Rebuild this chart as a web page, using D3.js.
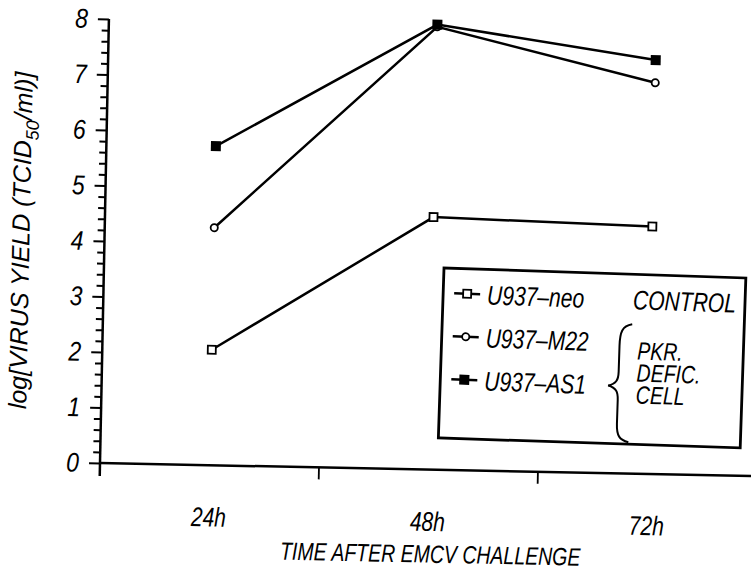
<!DOCTYPE html>
<html>
<head>
<meta charset="utf-8">
<script src="https://cdn.jsdelivr.net/npm/d3@7"></script>
<style>
body { margin: 0; background: #fff; }
svg { display: block; }
text { font-family: "Liberation Sans", Arial, sans-serif; font-style: italic; fill: #000; }
</style>
</head>
<body>
<svg></svg>
<script>
const width = 751;
const height = 576;

// categories and values
const cats = ['24h', '48h', '72h'];
const neo = [2.08, 4.55, 4.46];
const m22 = [4.28, 7.98, 7.05];
const as1 = [5.75, 8.02, 7.46];
const yTicks = [0, 1, 2, 3, 4, 5, 6, 7, 8];
const seriesNames = ['U937\u2013neo', 'U937\u2013M22', 'U937\u2013AS1'];
const seriesMarks = ['openSquare', 'openCircle', 'filledSquare'];
const groupLabels = ['CONTROL', 'PKR.', 'DEFIC.', 'CELL'];

const series = [neo, m22, as1].map((vals, i) => ({
    name: seriesNames[i],
    mark: seriesMarks[i],
    points: vals.map((v, j) => ({cat: cats[j], val: v}))
}));

// no narrow font installed: squeeze text horizontally around its anchor
let squeeze = (k) => (sel) => {
    sel.each(function () {
        let t = d3.select(this);
        let tx = +t.attr('x') || 0, ty = +t.attr('y') || 0;
        t.attr('x', 0).attr('y', 0)
            .attr('transform', `translate(${tx},${ty}) scale(${k},1)`);
    });
};

let svg = d3.select('svg').attr('width', width).attr('height', height);

// the scan is slightly tilted, so the whole plot sits in a rotated group
let g = svg.append('g').attr('transform', 'translate(100,463) rotate(1.15)');

let x = d3.scaleBand().domain(cats).range([0, 657]);
let y = d3.scaleLinear().domain([0, 8]).range([0, -444]);

// draws one marker of a given kind
let drawMark = (sel, kind, cx, cy) => {
    if (kind === 'openCircle') {
        sel.append('circle').attr('cx', cx).attr('cy', cy).attr('r', 3.6)
            .attr('fill', '#fff').attr('stroke', '#000').attr('stroke-width', 1.8);
    } else if (kind === 'openSquare') {
        sel.append('rect').attr('x', cx - 4).attr('y', cy - 4).attr('width', 8).attr('height', 8)
            .attr('fill', '#fff').attr('stroke', '#000').attr('stroke-width', 1.8);
    } else {
        sel.append('rect').attr('x', cx - 5).attr('y', cy - 5).attr('width', 10).attr('height', 10)
            .attr('fill', '#000');
    }
};

// minor and major y ticks
let minor = d3.range(0, 8.001, 0.2).filter(v => Math.abs(v - Math.round(v)) > 0.01);
g.append('g')
    .call(d3.axisLeft(y).tickValues(minor).tickSize(7).tickFormat(''))
    .call(a => a.select('.domain').remove())
    .selectAll('line').attr('stroke-width', 2);

g.append('g')
    .call(d3.axisLeft(y).tickValues(yTicks).tickSize(11).tickPadding(10).tickFormat(d3.format('d')))
    .call(a => a.select('.domain').remove())
    .call(a => a.selectAll('line').attr('stroke-width', 2))
    .call(a => a.selectAll('text').attr('font-size', 27).attr('font-family', null).call(squeeze(0.85)));

// axis lines
g.append('line').attr('x1', 0).attr('x2', 0).attr('y1', y(8)).attr('y2', 13)
    .attr('stroke', '#000').attr('stroke-width', 2.5);
g.append('line').attr('x1', 0).attr('x2', x.range()[1]).attr('y1', 0).attr('y2', 0)
    .attr('stroke', '#000').attr('stroke-width', 2.5);

// x ticks sit between the categories
g.selectAll('.xtick')
    .data(cats.slice(1))
    .enter().append('line')
    .attr('class', 'xtick')
    .attr('x1', d => x(d)).attr('x2', d => x(d))
    .attr('y1', 0).attr('y2', 12)
    .attr('stroke', '#000').attr('stroke-width', 1.8);

g.append('g')
    .call(d3.axisBottom(x).tickSize(0).tickPadding(42))
    .call(a => a.select('.domain').remove())
    .call(a => a.selectAll('text').attr('font-size', 27).attr('font-family', null).call(squeeze(0.78)));

// axis titles
g.append('text')
    .attr('x', 332).attr('y', 93)
    .attr('text-anchor', 'middle')
    .attr('font-size', 25)
    .text('TIME AFTER EMCV CHALLENGE')
    .call(squeeze(0.78));

let yt = g.append('text')
    .attr('transform', 'translate(-75,-221) rotate(-90)')
    .attr('text-anchor', 'middle')
    .attr('font-size', 25);
yt.append('tspan').text('log[VIRUS YIELD (TCID');
yt.append('tspan').attr('font-size', 18).attr('dy', 7).text('50');
yt.append('tspan').attr('dy', -7).text('/ml)]');

// data lines and markers
let line = d3.line()
    .x(p => x(p.cat) + x.bandwidth() / 2)
    .y(p => y(p.val));

g.selectAll('.series')
    .data(series)
    .enter().append('path')
    .attr('class', 'series')
    .attr('d', s => line(s.points))
    .attr('fill', 'none')
    .attr('stroke', '#000')
    .attr('stroke-width', 2.5);

series.forEach(s => {
    s.points.forEach(p => drawMark(g, s.mark, x(p.cat) + x.bandwidth() / 2, y(p.val)));
});

// legend box
let lg = svg.append('g').attr('transform', 'translate(444,268) rotate(1.9)');
lg.append('rect').attr('x', 0).attr('y', 0).attr('width', 302).attr('height', 170)
    .attr('fill', '#fff').attr('stroke', '#000').attr('stroke-width', 2.8);

let rowY = [25, 68, 111];
series.forEach((s, i) => {
    lg.append('line').attr('x1', 11).attr('x2', 37).attr('y1', rowY[i]).attr('y2', rowY[i])
        .attr('stroke', '#000').attr('stroke-width', 2.5);
    drawMark(lg, s.mark, 24, rowY[i]);
    lg.append('text').attr('x', 44).attr('y', rowY[i] + 10).attr('font-size', 27).text(s.name).call(squeeze(0.78));
});

lg.append('text').attr('x', 293).attr('y', rowY[0] + 10).attr('text-anchor', 'end')
    .attr('font-size', 27).text(groupLabels[0]).call(squeeze(0.78));
[85, 107, 129].forEach((yy, i) => {
    lg.append('text').attr('x', 196).attr('y', yy).attr('font-size', 25).text(groupLabels[i + 1]).call(squeeze(0.78));
});

// curly brace for the PKR deficient group
lg.append('path')
    .attr('d', 'M190,50 C180,52 178,58 178,72 L178,98 C178,106 176,110 168,112 C176,114 178,118 178,126 L178,150 C178,162 181,166 190,168')
    .attr('fill', 'none').attr('stroke', '#000').attr('stroke-width', 2);
</script>
</body>
</html>
